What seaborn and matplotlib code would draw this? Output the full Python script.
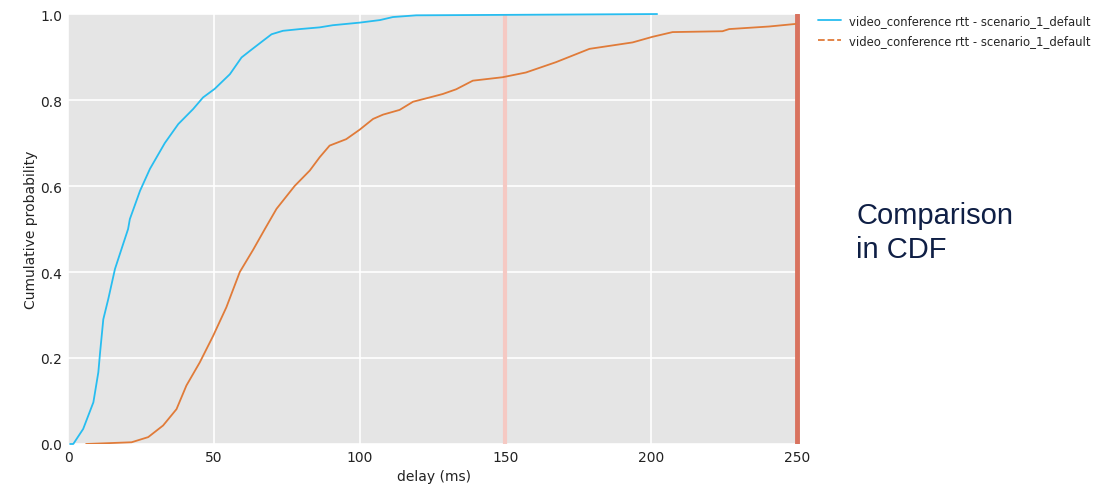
import numpy as np
import pandas as pd
import seaborn as sns
import matplotlib.pyplot as plt
from matplotlib.lines import Line2D

# CDF points (delay in ms, cumulative probability)
blue_delay = [0.7, 1.8, 5.2, 8.7, 10.4, 11.0, 12.1, 13.8, 16.1, 18.9, 20.6, 21.2,
              24.7, 28.1, 33.2, 37.8, 42.9, 46.3, 50.3, 53.2, 55.5, 59.5, 62.5,
              66.9, 69.8, 73.7, 79.5, 86.3, 90.8, 100.0, 107.0, 111.4, 119.4,
              148.0, 175.0, 202.0]
blue_prob = [0.0, 0.0, 0.035, 0.097, 0.167, 0.213, 0.29, 0.337, 0.407, 0.465, 0.50,
             0.523, 0.589, 0.64, 0.70, 0.744, 0.779, 0.806, 0.826, 0.845, 0.86,
             0.899, 0.915, 0.938, 0.953, 0.961, 0.965, 0.969, 0.974, 0.98, 0.986,
             0.993, 0.997, 0.998, 0.999, 1.0]

orange_delay = [6.2, 21.8, 27.5, 32.6, 37.2, 40.6, 45.2, 49.8, 54.3, 58.9, 63.5,
                67.5, 71.5, 77.7, 82.9, 86.3, 89.7, 95.4, 100.0, 104.6, 108.0,
                113.7, 118.3, 124.0, 128.5, 133.1, 138.8, 149.0, 157.0, 167.3,
                178.8, 193.6, 200.4, 207.3, 224.4, 226.7, 240.4, 249.5]
orange_prob = [0.0, 0.004, 0.016, 0.043, 0.081, 0.136, 0.19, 0.252, 0.318, 0.40,
               0.452, 0.50, 0.547, 0.60, 0.636, 0.667, 0.694, 0.709, 0.731, 0.756,
               0.766, 0.777, 0.796, 0.806, 0.814, 0.825, 0.845, 0.853, 0.864,
               0.888, 0.919, 0.934, 0.947, 0.958, 0.96, 0.965, 0.971, 0.977]

series_label = "video_conference rtt - scenario_1_default"
thresholds = [150, 250]

blue = "#27bdf0"
orange = "#e07b39"

sns.set_theme(style="darkgrid", rc={"axes.facecolor": "#e5e5e5",
                                    "grid.color": "white",
                                    "grid.linewidth": 1.2})
plt.rcParams['font.family'] = ['DejaVu Sans']

fig = plt.figure(figsize=(11.15, 4.85), dpi=100)
ax = fig.add_axes([0.061, 0.0825, 0.6565, 0.8865])

ax.axvline(thresholds[0], color="#f5c9c3", linewidth=3, zorder=1)
ax.axvline(thresholds[1], color="#d9735f", linewidth=3.5, zorder=1)

sns.lineplot(x=blue_delay, y=blue_prob, ax=ax, color=blue, linewidth=1.3,
             sort=False, estimator=None, clip_on=False)
sns.lineplot(x=orange_delay, y=orange_prob, ax=ax, color=orange, linewidth=1.3,
             sort=False, estimator=None)

ax.set_xlim(0, 251)
ax.set_ylim(0, 1.0)
ax.set_xticks([0, 50, 100, 150, 200, 250])
ax.set_yticks([0.0, 0.2, 0.4, 0.6, 0.8, 1.0])
ax.tick_params(labelsize=10, length=0, pad=4, colors="#222222")
ax.set_xlabel("delay (ms)", fontsize=10, color="#222222", labelpad=4)
ax.set_ylabel("Cumulative probability", fontsize=10, color="#222222", labelpad=2)
for s in ax.spines.values():
    s.set_visible(False)

handles = [Line2D([], [], color=blue, linewidth=1.3),
           Line2D([], [], color=orange, linewidth=1.3, linestyle="--")]
fig.legend(handles, [series_label, series_label], loc="upper left",
           bbox_to_anchor=(0.724, 0.99), frameon=False, fontsize=8.4,
           handlelength=2.0, handletextpad=0.7, labelspacing=0.6)

fig.text(0.768, 0.52, "Comparison\nin CDF", fontsize=21, color="#0f1f45",
         family=["Liberation Sans", "DejaVu Sans"], va="center", ha="left",
         linespacing=1.25)

fig.savefig("out.png", dpi=100)
